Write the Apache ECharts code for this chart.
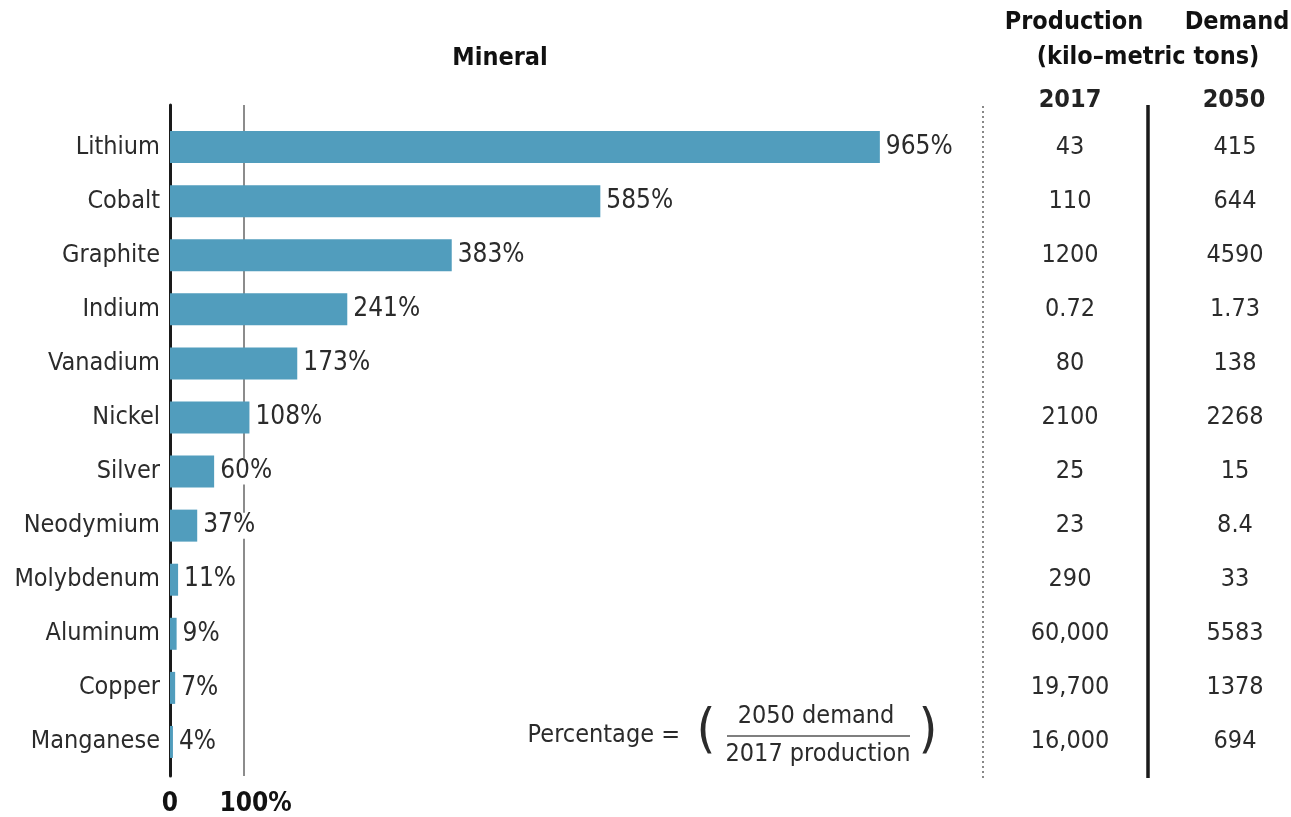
<!DOCTYPE html>
<html>
<head>
<meta charset="utf-8">
<script src="https://cdn.jsdelivr.net/npm/echarts@6/dist/echarts.min.js"></script>
<style>
html,body{margin:0;padding:0;background:#fff;}
#chart{width:1291px;height:817px;}
</style>
</head>
<body>
<div id="chart"></div>
<script>
const minerals = ['Lithium','Cobalt','Graphite','Indium','Vanadium','Nickel','Silver','Neodymium','Molybdenum','Aluminum','Copper','Manganese'];
const percentages = [965,585,383,241,173,108,60,37,11,9,7,4];
const production2017 = ['43','110','1200','0.72','80','2100','25','23','290','60,000','19,700','16,000'];
const demand2050 = ['415','644','4590','1.73','138','2268','15','8.4','33','5583','1378','694'];
const xTicksShown = {0:'0', 100:'100%'};

const FONT = '"DejaVu Sans Condensed", "Liberation Sans Narrow", "Liberation Sans", sans-serif';
const TXT = '#2b2b2b';
const BAR = '#519dbd';

const chart = echarts.init(document.getElementById('chart'));
const gridLeft = 170, gridRight = 385.4;

chart.setOption({
  animation:false,
  backgroundColor:'#fff',
  textStyle:{fontFamily:FONT},
  grid:[
    {left:gridLeft, right:gridRight, top:120, bottom:48, containLabel:false},
    {left:gridLeft, right:gridRight, top:105, bottom:40, containLabel:false}
  ],
  xAxis:[
    {gridIndex:0, type:'value', min:0, max:1000, show:false},
    {gridIndex:1, type:'value', min:0, max:1000, interval:100,
     axisLine:{show:false}, axisTick:{show:false}, splitLine:{show:false},
     axisLabel:{margin:15, fontSize:26, fontWeight:'bold', color:'#111', fontFamily:FONT,
       formatter:v => xTicksShown[v] !== undefined ? (v===100 ? '{p|'+xTicksShown[v]+'}' : xTicksShown[v]) : '',
       rich:{p:{fontSize:26, fontWeight:'bold', color:'#111', fontFamily:FONT, padding:[0,0,0,24]}}}}
  ],
  yAxis:[
    {gridIndex:0, type:'category', inverse:true, data:minerals,
     axisLine:{show:false}, axisTick:{show:false},
     axisLabel:{margin:10, fontSize:25, color:TXT, fontFamily:FONT}},
    {gridIndex:0, type:'category', inverse:true, data:production2017, position:'right', offset:1070-(1291-gridRight),
     axisLine:{show:false}, axisTick:{show:false},
     axisLabel:{margin:0, align:'center', fontSize:25, color:TXT, fontFamily:FONT}},
    {gridIndex:0, type:'category', inverse:true, data:demand2050, position:'right', offset:1235-(1291-gridRight),
     axisLine:{show:false}, axisTick:{show:false},
     axisLabel:{margin:0, align:'center', fontSize:25, color:TXT, fontFamily:FONT}},
    {gridIndex:1, type:'value', min:0, max:1,
     axisLine:{show:true, lineStyle:{color:'#1a1a1a', width:3}}, axisTick:{show:false},
     axisLabel:{show:false}, splitLine:{show:false}}
  ],
  series:[
    {type:'line', xAxisIndex:1, yAxisIndex:3, data:[], z:1, silent:true,
     markLine:{silent:true, symbol:'none', z:1, label:{show:false},
       lineStyle:{color:'#666', width:1.5, type:'solid'},
       data:[{xAxis:100}]}},
    {type:'bar', xAxisIndex:0, yAxisIndex:0, data:percentages, barWidth:32, z:3,
     itemStyle:{color:BAR},
     label:{show:true, position:'right', distance:4, formatter:'{c}%', fontSize:26, color:TXT,
       fontFamily:FONT, backgroundColor:'#fff', padding:[0,3,0,2]}}
  ],
  graphic:[
    {type:'text', x:500, y:58, style:{text:'Mineral', font:'bold 25px '+FONT, fill:'#111', align:'center', verticalAlign:'middle'}},
    {type:'text', x:1074, y:22, style:{text:'Production', font:'bold 25px '+FONT, fill:'#111', align:'center', verticalAlign:'middle'}},
    {type:'text', x:1237, y:22, style:{text:'Demand', font:'bold 25px '+FONT, fill:'#111', align:'center', verticalAlign:'middle'}},
    {type:'text', x:1148, y:57, style:{text:'(kilo–metric tons)', font:'bold 25px '+FONT, fill:'#111', align:'center', verticalAlign:'middle'}},
    {type:'text', x:1070, y:100, style:{text:'2017', font:'bold 25px '+FONT, fill:'#222', align:'center', verticalAlign:'middle'}},
    {type:'text', x:1234, y:100, style:{text:'2050', font:'bold 25px '+FONT, fill:'#222', align:'center', verticalAlign:'middle'}},
    {type:'line', shape:{x1:983, y1:106, x2:983, y2:778}, style:{stroke:'#888', lineWidth:2, lineDash:[2,3]}},
    {type:'line', shape:{x1:1148, y1:105, x2:1148, y2:778}, style:{stroke:'#1a1a1a', lineWidth:3.5}},
    {type:'text', x:680, y:735, style:{text:'Percentage =', font:'25px '+FONT, fill:TXT, align:'right', verticalAlign:'middle'}},
    {type:'text', x:706, y:733, style:{text:'(', font:'54px '+FONT, fill:TXT, align:'center', verticalAlign:'middle'}},
    {type:'text', x:928, y:733, style:{text:')', font:'54px '+FONT, fill:TXT, align:'center', verticalAlign:'middle'}},
    {type:'text', x:816, y:716, style:{text:'2050 demand', font:'25px '+FONT, fill:TXT, align:'center', verticalAlign:'middle'}},
    {type:'line', shape:{x1:727, y1:736, x2:910, y2:736}, style:{stroke:'#555', lineWidth:1.5}},
    {type:'text', x:818, y:754, style:{text:'2017 production', font:'25px '+FONT, fill:TXT, align:'center', verticalAlign:'middle'}}
  ]
});
</script>
</body>
</html>
